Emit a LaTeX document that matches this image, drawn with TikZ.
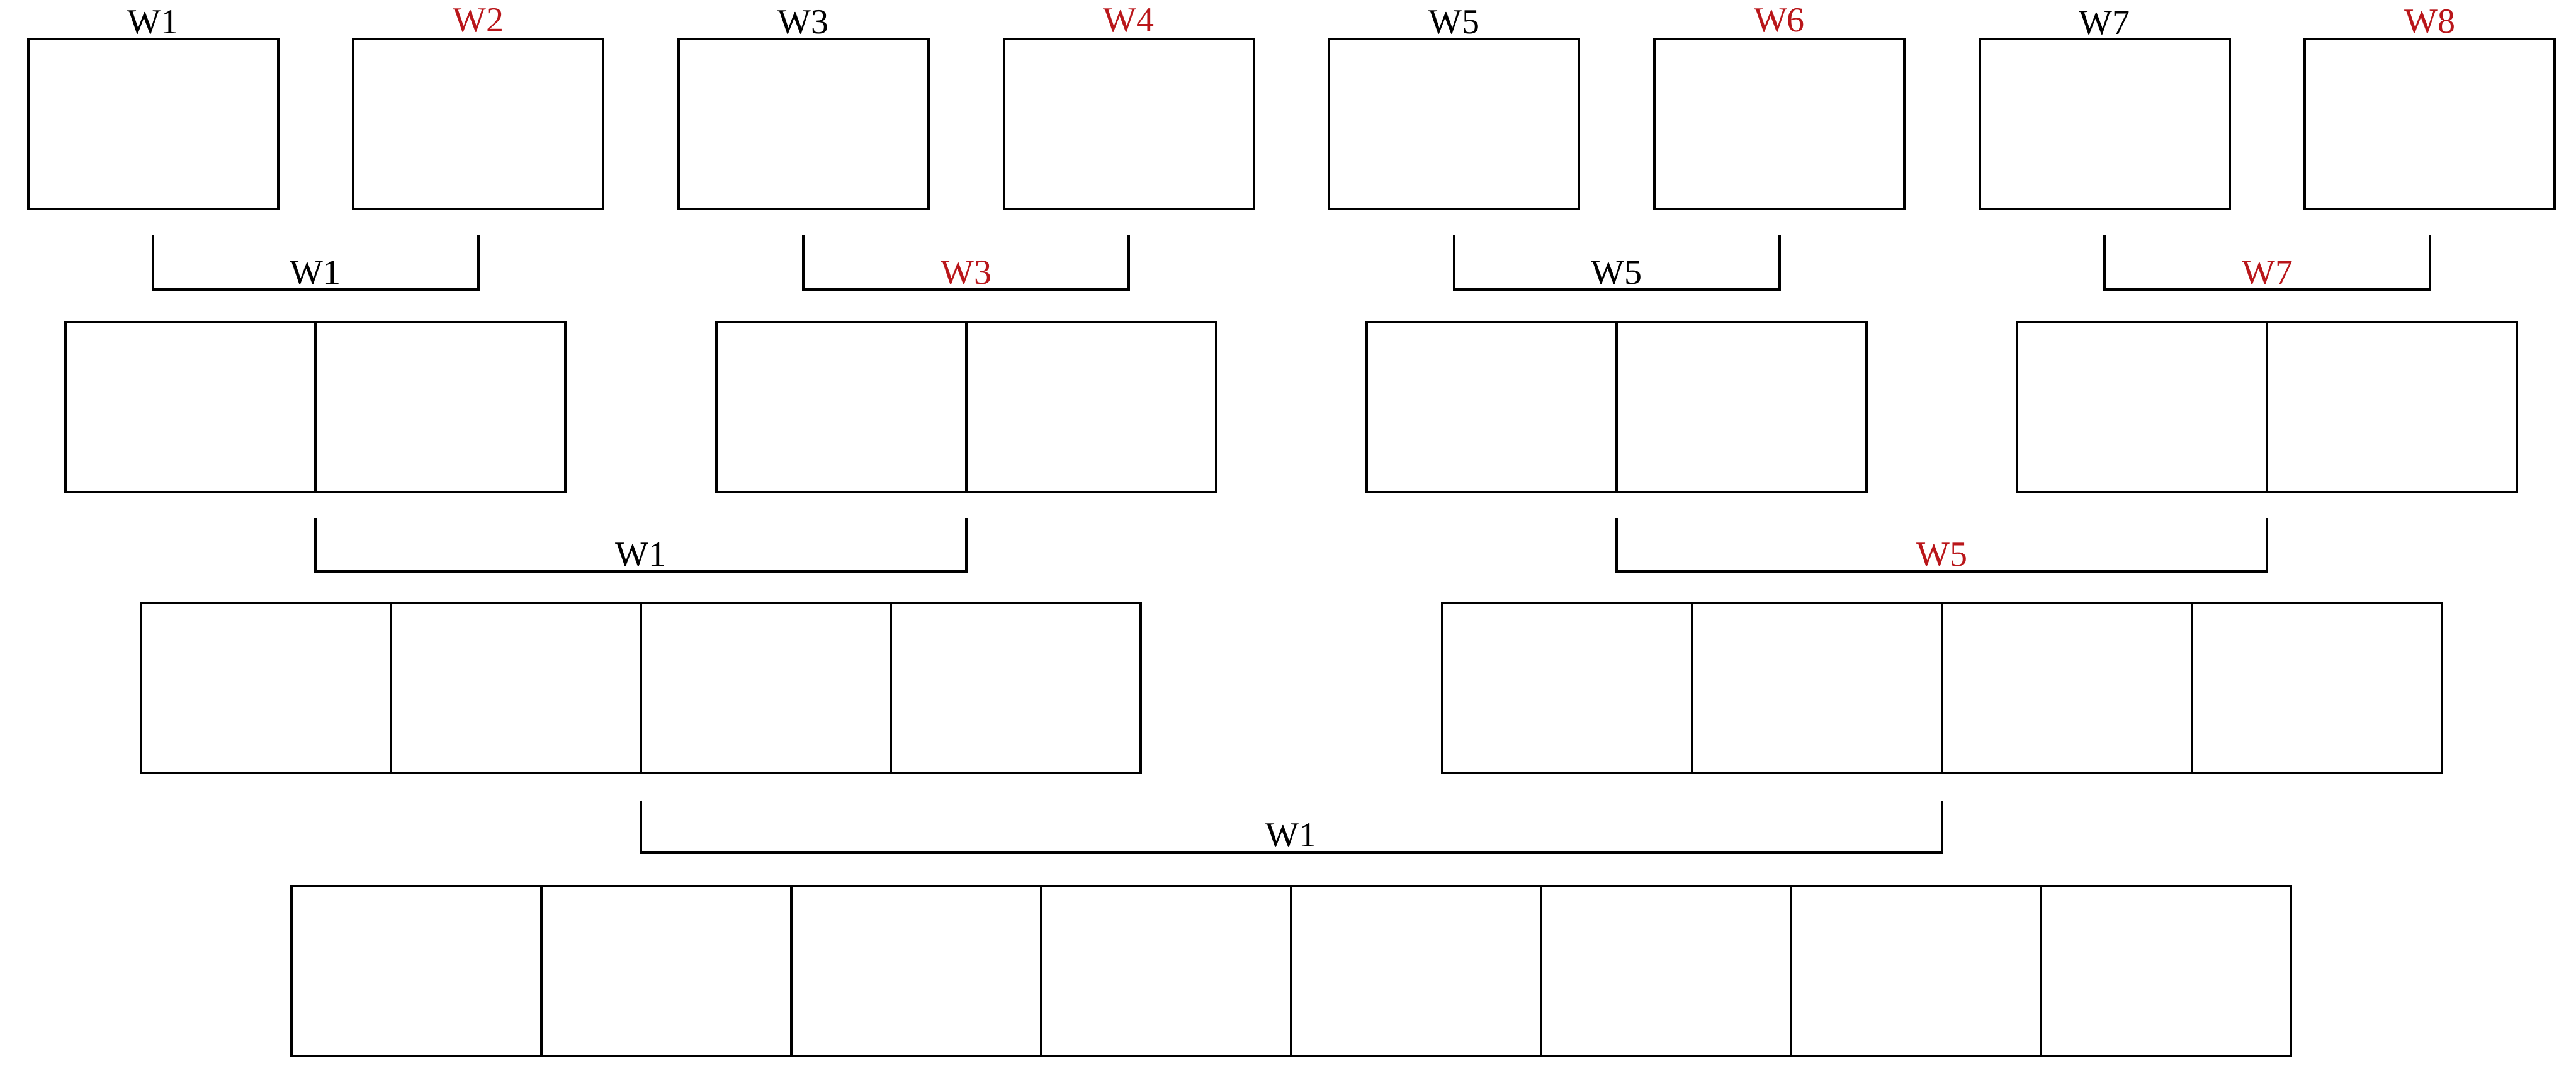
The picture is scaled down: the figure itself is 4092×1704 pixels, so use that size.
\documentclass[tikz,border=0pt]{standalone}
\usepackage{fontspec}
\setmainfont{Liberation Serif}
\usetikzlibrary{calc}
\definecolor{wred}{RGB}{185,22,26}
\begin{document}
\begin{tikzpicture}[x=0.25pt,y=-0.25pt,
  cell/.style={draw, line width=1pt, minimum width=99.25pt, minimum height=67.5pt, inner sep=0pt, outer sep=0pt},
  lbl/.style={font=\fontsize{14}{16}\selectfont, inner sep=0pt, anchor=base},
  redlbl/.style={lbl, text=wred},
  brk/.style={line width=1pt}]
\useasboundingbox (0,0) rectangle (4092,1704);

% Row 1: single boxes
\foreach \i in {1,...,8} {
  \node[cell] (r1c\i) at ({243+516.7*(\i-1)},197) {};
}
% Row 2: pairs
\foreach \i/\x in {1/302.7,2/699.7,3/1336.1,4/1733.1,5/2369.5,6/2766.5,7/3402.9,8/3799.9} {
  \node[cell] (r2c\i) at (\x,647) {};
}
% Row 3: quads
\foreach \i/\x in {1/422.4,2/819.4,3/1216.4,4/1613.4,5/2489.2,6/2886.2,7/3283.2,8/3680.2} {
  \node[cell] (r3c\i) at (\x,1092.5) {};
}
% Row 4: eight
\foreach \i/\x in {1/661.8,2/1058.8,3/1455.8,4/1852.8,5/2249.8,6/2646.8,7/3043.8,8/3440.8} {
  \node[cell] (r4c\i) at (\x,1543) {};
}

% Top labels
\node[lbl]    (t1) at ([yshift=2.25pt]r1c1.north) {W1};
\node[redlbl] (t2) at ([yshift=3pt]r1c2.north) {W2};
\node[lbl]    (t3) at ([yshift=2.25pt]r1c3.north) {W3};
\node[redlbl] (t4) at ([yshift=3pt]r1c4.north) {W4};
\node[lbl]    (t5) at ([yshift=2.25pt]r1c5.north) {W5};
\node[redlbl] (t6) at ([yshift=3pt]r1c6.north) {W6};
\node[lbl]    (t7) at ([yshift=2pt]r1c7.north) {W7};
\node[redlbl] (t8) at ([yshift=2.5pt]r1c8.north) {W8};

% Brackets between row 1 and row 2
\foreach \a/\b/\n in {1/2/1,3/4/2,5/6/3,7/8/4} {
  \coordinate (p\n a) at ([yshift=-10.5pt]r1c\a.south);
  \coordinate (p\n b) at ([yshift=-10.5pt]r1c\b.south);
  \coordinate (q\n a) at ([yshift=-32pt]r1c\a.south);
  \coordinate (q\n b) at ([yshift=-32pt]r1c\b.south);
  \draw[brk] (p\n a) -- (q\n a) -- (q\n b) -- (p\n b);
}
\node[lbl]    (l1) at ([yshift=2.25pt]$(q1a)!0.5!(q1b)$) {W1};
\node[redlbl] (l2) at ([yshift=2.25pt]$(q2a)!0.5!(q2b)$) {W3};
\node[lbl]    (l3) at ([yshift=2.25pt]$(q3a)!0.5!(q3b)$) {W5};
\node[redlbl] (l4) at ([yshift=2.25pt]$(q4a)!0.5!(q4b)$) {W7};

% Brackets between row 2 and row 3
\foreach \a/\b/\n in {1/3/5,5/7/6} {
  \coordinate (p\n a) at ([yshift=-10.25pt]r2c\a.south east);
  \coordinate (p\n b) at ([yshift=-10.25pt]r2c\b.south east);
  \coordinate (q\n a) at ([yshift=-31.5pt]r2c\a.south east);
  \coordinate (q\n b) at ([yshift=-31.5pt]r2c\b.south east);
  \draw[brk] (p\n a) -- (q\n a) -- (q\n b) -- (p\n b);
}
\node[lbl]    (l5) at ([yshift=2.25pt]$(q5a)!0.5!(q5b)$) {W1};
\node[redlbl] (l6) at ([yshift=2.25pt]$(q6a)!0.5!(q6b)$) {W5};

% Bracket between row 3 and row 4
\coordinate (p7a) at ([yshift=-11pt]r3c2.south east);
\coordinate (p7b) at ([yshift=-11pt]r3c6.south east);
\coordinate (q7a) at ([yshift=-31.75pt]r3c2.south east);
\coordinate (q7b) at ([yshift=-31.75pt]r3c6.south east);
\draw[brk] (p7a) -- (q7a) -- (q7b) -- (p7b);
\node[lbl] (l7) at ([yshift=2.25pt]$(q7a)!0.5!(q7b)$) {W1};
\end{tikzpicture}
\end{document}
